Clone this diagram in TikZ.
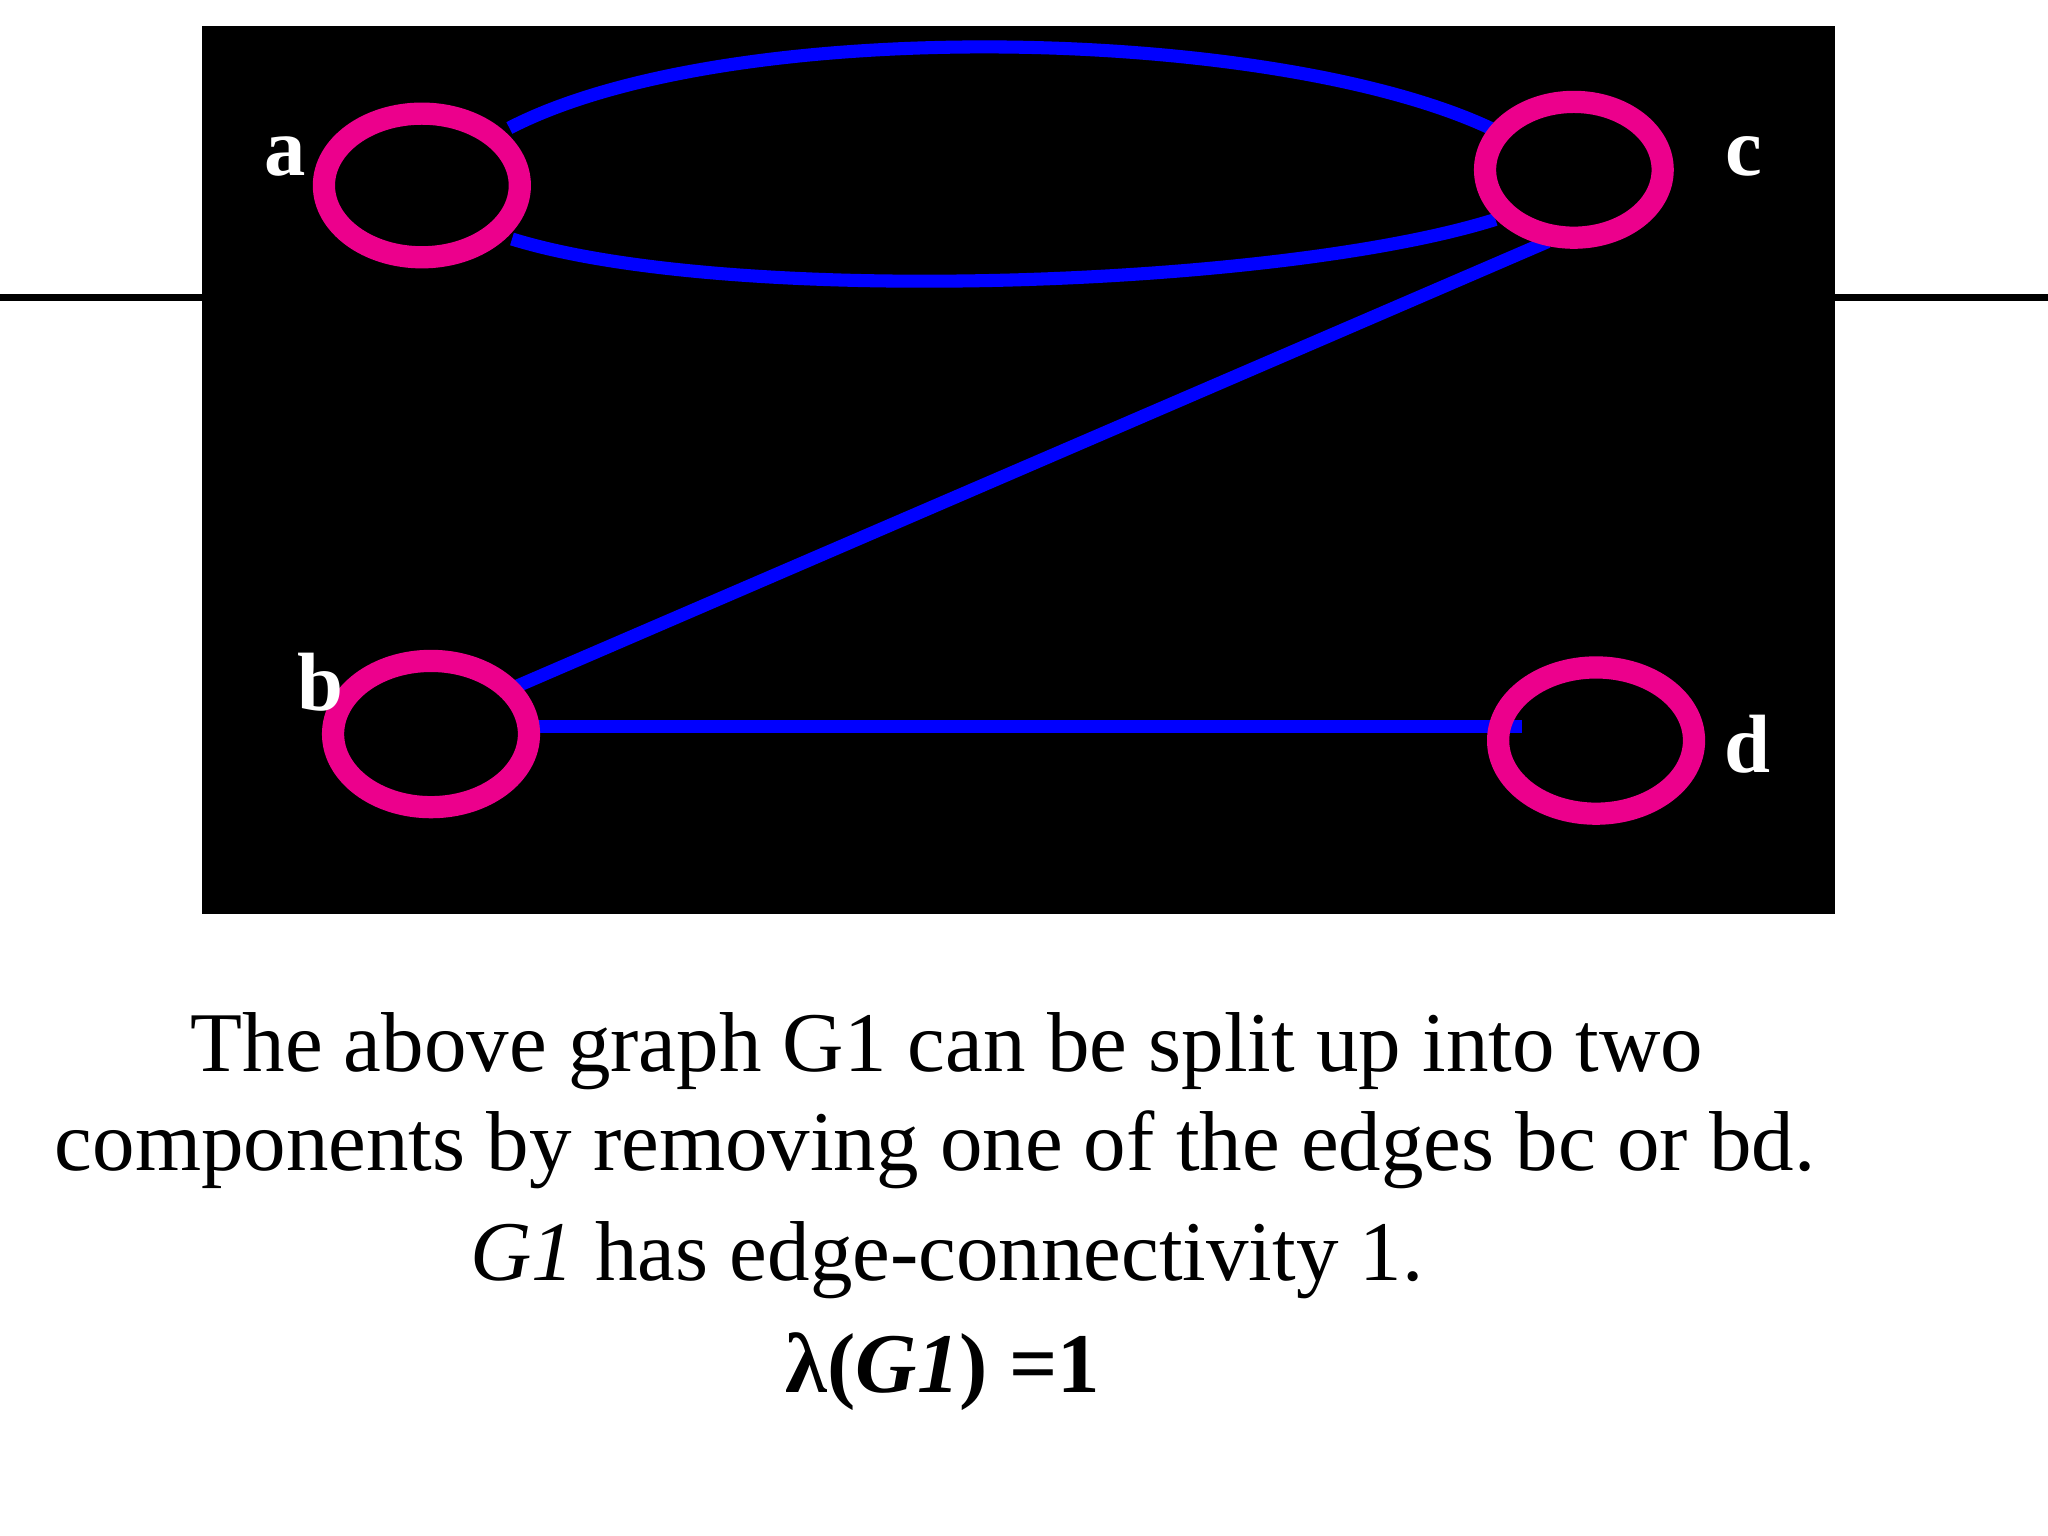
\documentclass[tikz,border=0pt]{standalone}
\usepackage{fontspec}
\setmainfont{Liberation Serif}
\begin{document}
\begin{tikzpicture}[x=0.01cm,y=-0.01cm,
  vert/.style={draw=magenta,line width=0.17cm,ellipse,minimum width=1.35cm,minimum height=0.95cm,inner sep=0pt},
  edge/.style={draw=blue,line width=0.1cm},
  lab/.style={text=white,font=\fontsize{18}{20}\selectfont\bfseries},
  txt/.style={font=\fontsize{18.5}{22}\selectfont}]
\useasboundingbox (0,0) rectangle (1568,1176);
\fill[white] (0,0) rectangle (1568,1176);
\draw[line width=1.5pt] (0,228) -- (155,228);
\draw[line width=1.5pt] (1405,228) -- (1568,228);
\fill[black] (155,20) rectangle (1405,700);
\coordinate (ac1) at (390,98);
\coordinate (ca1) at (1145,100);
\coordinate (ac2) at (392,183);
\coordinate (ca2) at (1145,168);
\coordinate (bc) at (385,530);
\coordinate (cb) at (1185,185);
\coordinate (bd) at (400,556);
\coordinate (db) at (1165,556);
\draw[edge] (ac1) .. controls (560,10) and (980,20) .. (ca1);
\draw[edge] (ac2) .. controls (560,235) and (980,220) .. (ca2);
\draw[edge] (bc) -- (cb);
\draw[edge] (bd) -- (db);
\usetikzlibrary{shapes.geometric}
\draw[draw=magenta,line width=0.17cm] (323,142) ellipse [x radius=75, y radius=55] node (a) {};
\draw[draw=magenta,line width=0.17cm] (1205,130) ellipse [x radius=68, y radius=52] node (c) {};
\draw[draw=magenta,line width=0.17cm] (330,562) ellipse [x radius=75, y radius=56] node (b) {};
\draw[draw=magenta,line width=0.17cm] (1222,567) ellipse [x radius=75, y radius=56] node (d) {};
\node[lab] (la) at (218,120) {a};
\node[lab] (lc) at (1335,120) {c};
\node[lab] (lb) at (245,522) {b};
\node[lab] (ld) at (1338,570) {d};
\node[txt] (t1) at (725,805) {The above graph G1 can be split up into two};
\node[txt] (t2) at (716,880) {components by removing one of the edges bc or bd.};
\node[txt] (t3) at (725,965) {\textit{G1} has edge-connectivity 1.};
\node[txt,font=\fontsize{18.5}{22}\selectfont\bfseries] (t4) at (722,1050) {λ(\textit{G1}) =1};
\end{tikzpicture}
\end{document}
